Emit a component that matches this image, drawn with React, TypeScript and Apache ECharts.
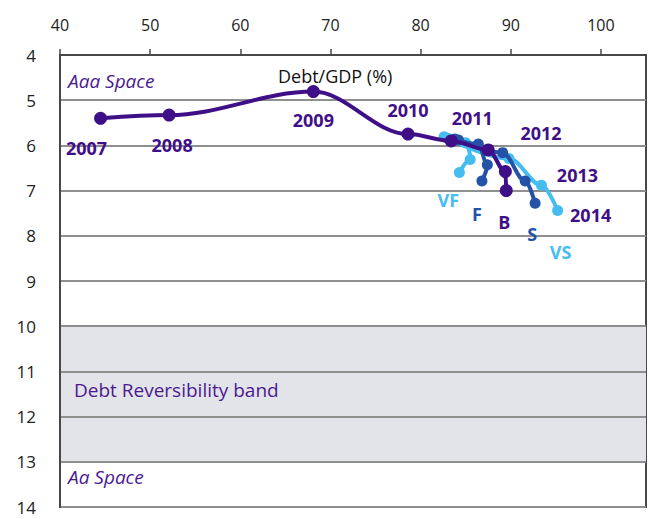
import React, { useEffect, useRef } from "react";
import * as echarts from "echarts";

// Main path (actual + baseline "B" scenario)
const mainYears = ["2007", "2008", "2009", "2010", "2011", "", "", ""];
const mainDebt = [44.5, 52.1, 68.1, 78.6, 83.4, 87.5, 89.4, 89.5];
const mainRating = [5.4, 5.33, 4.81, 5.75, 5.9, 6.1, 6.58, 7.0];

// Scenario paths
const vfDebt = [82.6, 85.0, 85.5, 84.3];
const vfRating = [5.81, 5.94, 6.31, 6.6];
const fDebt = [83.8, 86.4, 87.4, 86.8];
const fRating = [5.86, 5.97, 6.43, 6.79];
const sDebt = [84.2, 89.1, 91.6, 92.7];
const sRating = [5.88, 6.16, 6.79, 7.28];
const vsDebt = [83.0, 89.8, 93.4, 95.2];
const vsRating = [5.84, 6.29, 6.88, 7.44];
const vsYears = ["", "2012", "2013", "2014"];

const scenarioNames = ["VF", "F", "B", "S", "VS"];

const yTicks = [4, 5, 6, 7, 8, 9, 10, 11, 12, 13, 14];
const band = [10, 13];

const PURPLE = "#3f0f88";
const MID = "#2452a6";
const LIGHT = "#46bdf0";
const BAND = "#e3e4e9";
const FONT = "Open Sans";

const mainYearOffsets: number[][] = [
  [-14, 30],
  [3, 30],
  [0, 28],
  [0, -24],
  [21, -23],
  [0, 0],
  [0, 0],
  [0, 0],
];
const vsYearOffsets: number[][] = [
  [0, 0],
  [32, -26],
  [36, -10],
  [33, 5],
];

function yearLabel(text: string, off: number[]) {
  return {
    show: text !== "",
    formatter: text,
    position: "inside",
    offset: off,
    color: PURPLE,
    opacity: 1,
    fontFamily: FONT,
    fontSize: 18,
    fontWeight: "bold",
  };
}

function scenLabel(text: string, off: number[], color: string) {
  return {
    show: true,
    formatter: text,
    position: "inside",
    offset: off,
    color,
    opacity: 1,
    fontFamily: FONT,
    fontSize: 18,
    fontWeight: "bold",
  };
}

export default function App() {
  const ref = useRef<HTMLDivElement>(null);

  useEffect(() => {
    document.body.style.margin = "0";
    const chart = echarts.init(ref.current!, null, { renderer: "svg" });

    const mainData = mainDebt.map((x, i) => {
      const d: any = { value: [x, mainRating[i]] };
      if (mainYears[i]) d.label = yearLabel(mainYears[i], mainYearOffsets[i]);
      if (i === mainDebt.length - 1) d.label = scenLabel(scenarioNames[2], [-2, 31], PURPLE);
      return d;
    });

    const mk = (xs: number[], ys: number[], name: string, off: number[], color: string) =>
      xs.map((x, i) => {
        const d: any = { value: [x, ys[i]] };
        if (i === xs.length - 1) d.label = scenLabel(name, off, color);
        return d;
      });

    const vsYearData = vsDebt.map((x, i) => ({
      value: [x, vsRating[i]],
      label: yearLabel(vsYears[i], vsYearOffsets[i]),
    }));

    // band shading via split areas between ticks
    const areaColors = yTicks.slice(0, -1).map((t) =>
      t >= band[0] && t < band[1] ? BAND : "rgba(0,0,0,0)"
    );

    const lineSeries = (name: string, data: any[], color: string, z: number, size: number) => ({
      name,
      type: "line",
      data,
      smooth: 0.35,
      smoothMonotone: "x",
      symbol: "circle",
      symbolSize: size,
      z,
      lineStyle: { color, width: 4 },
      itemStyle: { color },
      label: { show: false },
      emphasis: { disabled: true },
    });

    chart.setOption({
      animation: false,
      grid: {
        left: 60,
        right: 7,
        top: 55,
        bottom: 12,
        show: true,
        borderColor: "#474747",
        borderWidth: 2,
        backgroundColor: "transparent",
      },
      xAxis: {
        type: "value",
        position: "top",
        min: 40,
        max: 105,
        interval: 10,
        axisLine: { show: true, lineStyle: { color: "#474747", width: 2 } },
        axisTick: { show: true, inside: false, length: 6, lineStyle: { color: "#474747", width: 1.5 } },
        axisLabel: {
          showMaxLabel: false,
          margin: 22,
          color: "#222",
          fontFamily: FONT,
          fontSize: 16,
        },
        splitLine: { show: false },
      },
      yAxis: {
        type: "value",
        inverse: true,
        min: yTicks[0],
        max: yTicks[yTicks.length - 1],
        interval: 1,
        axisLine: { show: true, lineStyle: { color: "#474747", width: 2 } },
        axisTick: { show: false },
        axisLabel: {
          margin: 24,
          color: "#222",
          fontFamily: FONT,
          fontSize: 17,
        },
        splitLine: { show: true, lineStyle: { color: "#8f8f8f", width: 2 } },
        splitArea: { show: true, areaStyle: { color: areaColors } },
      },
      series: [
        lineSeries("VF", mk(vfDebt, vfRating, scenarioNames[0], [-11, 27], LIGHT), LIGHT, 2, 11),
        lineSeries("VS", mk(vsDebt, vsRating, scenarioNames[4], [3, 42], LIGHT), LIGHT, 2, 11),
        lineSeries("F", mk(fDebt, fRating, scenarioNames[1], [-5, 33], MID), MID, 3, 11),
        lineSeries("S", mk(sDebt, sRating, scenarioNames[3], [-3, 31], MID), MID, 3, 11),
        lineSeries("B", mainData, PURPLE, 5, 13),
        {
          name: "vsYears",
          type: "scatter",
          data: vsYearData,
          symbolSize: 0,
          z: 6,
          itemStyle: { color: "rgba(0,0,0,0)", opacity: 1 },
          emphasis: { disabled: true },
          silent: true,
        },
      ],
      graphic: [
        {
          type: "text",
          left: 68,
          top: 71,
          z: 10,
          style: { text: "Aaa Space", fill: "#4b1a8f", font: `italic 19px "${FONT}"` },
        },
        {
          type: "text",
          left: 278,
          top: 67,
          z: 10,
          style: { text: "Debt/GDP (%)", fill: "#111", font: `18px "${FONT}"` },
        },
        {
          type: "text",
          left: 74,
          top: 380,
          z: 10,
          style: { text: "Debt Reversibility band", fill: "#4b1a8f", font: `19px "${FONT}"` },
        },
        {
          type: "text",
          left: 68,
          top: 467,
          z: 10,
          style: { text: "Aa Space", fill: "#4b1a8f", font: `italic 19px "${FONT}"` },
        },
      ],
    });

    return () => chart.dispose();
  }, []);

  return <div ref={ref} style={{ width: 653, height: 519 }} />;
}
